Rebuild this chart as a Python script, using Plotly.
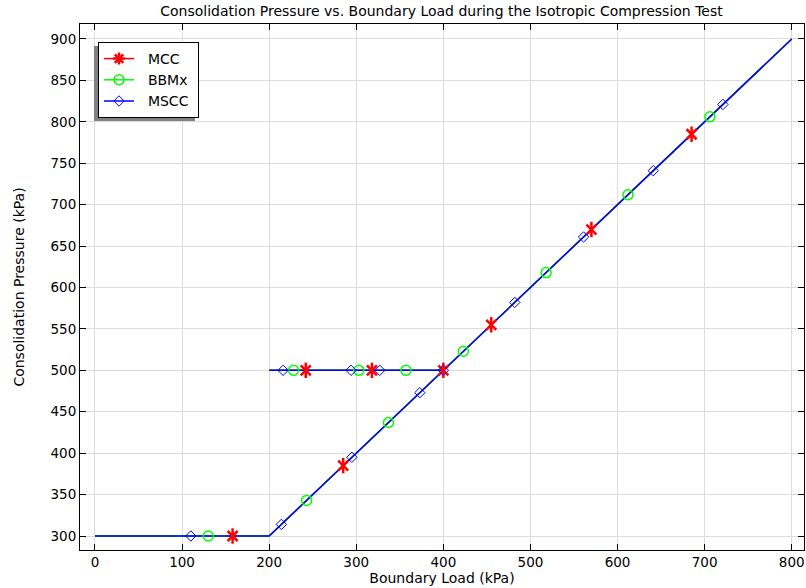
import plotly.graph_objects as go

# Path of loading (same for all three models)
path_x = [0, 200, 800, None, 200, 400]
path_y = [300, 300, 900, None, 500, 500]

# Marker positions
mcc_x = [158, 242, 318, 400, 285, 455, 570, 685]
mcc_y = [300, 500, 500, 500, 385, 555, 670, 785]

bbmx_x = [130, 228, 303, 357, 243, 337, 423, 518, 612, 706]
bbmx_y = [300, 500, 500, 500, 343, 437, 523, 618, 712, 806]

mscc_x = [110, 216, 294, 327, 400, 214, 295, 373, 482, 561, 641, 721]
mscc_y = [300, 500, 500, 500, 500, 314, 395, 473, 582, 661, 741, 821]

series_names = ["MCC", "BBMx", "MSCC"]

x_ticks = [0, 100, 200, 300, 400, 500, 600, 700, 800]
y_ticks = [300, 350, 400, 450, 500, 550, 600, 650, 700, 750, 800, 850, 900]

RED, GREEN, BLUE = "#ff0000", "#00ff00", "#0000ff"
FONT = "DejaVu Sans"
PRE = "\u00a0\u00a0"
POST = "\u00a0"

fig = go.Figure()

# lines
for col in (RED, GREEN, BLUE):
    fig.add_trace(go.Scatter(x=path_x, y=path_y, mode="lines",
                             line=dict(color=col, width=1.5),
                             showlegend=False, hoverinfo="skip"))

# markers
fig.add_trace(go.Scatter(x=mcc_x, y=mcc_y, mode="markers", showlegend=False,
                         marker=dict(symbol="x-thin-open", size=10, color=RED,
                                     line=dict(color=RED, width=2.5))))
fig.add_trace(go.Scatter(x=mcc_x, y=mcc_y, mode="markers", showlegend=False,
                         marker=dict(symbol="line-ns-open", size=11, color=RED,
                                     line=dict(color=RED, width=2.5))))
fig.add_trace(go.Scatter(x=bbmx_x, y=bbmx_y, mode="markers", showlegend=False,
                         marker=dict(symbol="circle-open", size=10, color=GREEN,
                                     line=dict(color=GREEN, width=1.5))))
fig.add_trace(go.Scatter(x=mscc_x, y=mscc_y, mode="markers", showlegend=False,
                         marker=dict(symbol="diamond-open", size=8, color=BLUE,
                                     line=dict(color=BLUE, width=1))))

# legend entries
fig.add_trace(go.Scatter(x=[None], y=[None], mode="lines+markers",
                         name=PRE + series_names[0] + POST,
                         line=dict(color=RED, width=1.5),
                         marker=dict(symbol="asterisk-open", size=10, color=RED,
                                     line=dict(color=RED, width=2.5))))
fig.add_trace(go.Scatter(x=[None], y=[None], mode="lines+markers",
                         name=PRE + series_names[1] + POST,
                         line=dict(color=GREEN, width=1.5),
                         marker=dict(symbol="circle-open", size=10, color=GREEN,
                                     line=dict(color=GREEN, width=1.5))))
fig.add_trace(go.Scatter(x=[None], y=[None], mode="lines+markers",
                         name=PRE + series_names[2] + POST,
                         line=dict(color=BLUE, width=1.5),
                         marker=dict(symbol="diamond-open", size=8, color=BLUE,
                                     line=dict(color=BLUE, width=1))))

axis_common = dict(showline=True, linecolor="black", linewidth=1, mirror="ticks",
                   ticks="inside", ticklen=6, tickcolor="black",
                   showgrid=True, gridcolor="#dcdcdc", gridwidth=1,
                   zeroline=False, automargin=False,
                   tickfont=dict(family=FONT, size=13.5, color="black"))

fig.update_layout(
    width=806, height=588,
    margin=dict(l=80, r=2, t=24, b=38),
    paper_bgcolor="white", plot_bgcolor="white",
    font=dict(family=FONT, size=14, color="black"),
    title=dict(text="Consolidation Pressure vs. Boundary Load during the Isotropic Compression Test",
               x=441.5 / 806, xanchor="center", y=1 - 11 / 588, yanchor="middle",
               font=dict(family=FONT, size=14, color="black")),
    xaxis=dict(range=[-17.2, 814.1], tickvals=x_ticks,
               title=dict(text="Boundary Load (kPa)", standoff=0,
                          font=dict(family=FONT, size=14)),
               **axis_common),
    yaxis=dict(range=[283.1, 918.1], tickvals=y_ticks,
               title=dict(text="Consolidation Pressure (kPa)", standoff=22,
                          font=dict(family=FONT, size=14)),
               **axis_common),
    legend=dict(x=(98 - 80) / 724, y=(550 - 42) / 526, xanchor="left", yanchor="top",
                bgcolor="white", bordercolor="black", borderwidth=1,
                font=dict(family=FONT, size=14, color="black"),
                itemwidth=30, tracegroupgap=0),
    shapes=[dict(type="rect", xref="paper", yref="paper",
                 x0=(94 - 80) / 724, x1=(195 - 80) / 724,
                 y0=(550 - 121) / 526, y1=(550 - 46) / 526,
                 fillcolor="#808080", line=dict(width=0), layer="above")],
)

fig.write_html("out.html", config={"displayModeBar": False},
               post_script="document.body.style.margin='0';")
